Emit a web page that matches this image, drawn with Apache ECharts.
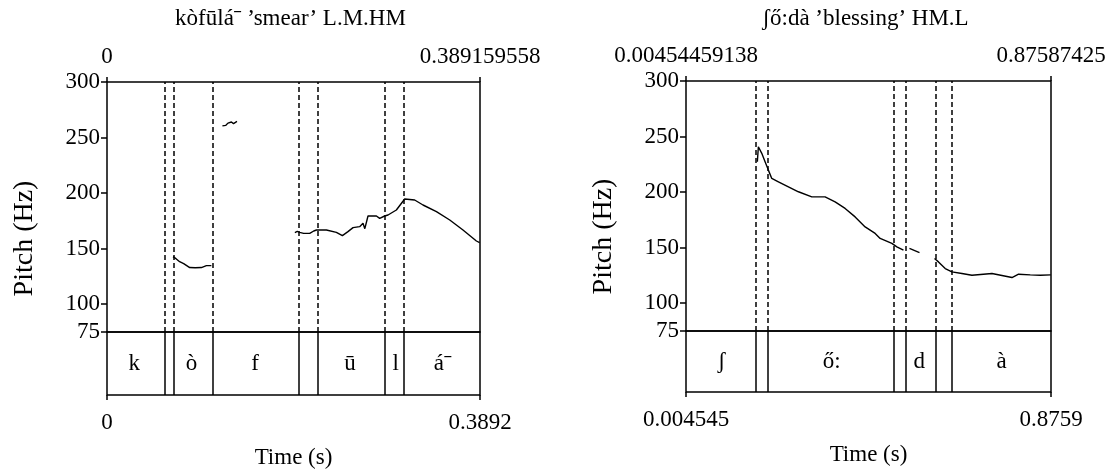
<!DOCTYPE html>
<html>
<head>
<meta charset="utf-8">
<script src="https://cdn.jsdelivr.net/npm/echarts@6/dist/echarts.min.js"></script>
<style>
  html, body { margin: 0; padding: 0; background: #fff; }
  #chart { width: 1113px; height: 473px; }
</style>
</head>
<body>
<div id="chart"></div>
<script>
// ---- kòfūláˉ 'smear' (L.M.HM) ----
const kofulaTitle = 'kòfūláˉ ’smear’ L.M.HM';
const kofulaRange = [0, 0.389159558];
const kofulaTopLabels = ['0', '0.389159558'];
const kofulaBottomLabels = ['0', '0.3892'];
const kofulaBoundaries = [0.0568, 0.0678, 0.1085, 0.2007, 0.2160, 0.2911, 0.3113];
const kofulaSegments = ['k', '', 'ò', 'f', '', 'ū', 'l', 'áˉ'];
// pitch track (s, Hz), one array per voiced stretch
const kofulaPitch1 = [[0.0689,142.8],[0.0720,141.0],[0.0758,138.3],[0.0800,136.5],[0.0863,133.0],[0.0920,132.8],[0.0985,133.0],[0.1037,134.7],[0.1089,134.7]];
const kofulaPitch2 = [[0.1204,260.5],[0.1240,261.0],[0.1262,263.0],[0.1298,264.0],[0.1320,262.5],[0.1340,263.5],[0.1356,264.5]];
const kofulaPitch3 = [[0.1960,164.5],[0.1985,165.5],[0.2010,164.7],[0.2052,163.8],[0.2115,163.8],[0.2157,165.9],[0.2185,166.8],[0.2289,166.8],[0.2393,164.7],[0.2456,161.7],[0.2514,165.3],[0.2567,168.9],[0.2636,169.8],[0.2671,172.8],[0.2690,168.0],[0.2723,179.4],[0.2811,179.4],[0.2845,177.3],[0.2897,179.4],[0.2932,180.3],[0.3019,184.8],[0.3106,194.7],[0.3210,193.8],[0.3297,189.3],[0.3437,183.3],[0.3576,175.8],[0.3714,166.8],[0.3854,156.9],[0.3888,155.4]];

// ---- ʃő:dà 'blessing' (HM.L) ----
const shodaTitle = 'ʃő:dà ’blessing’ HM.L';
const shodaRange = [0.00454459138, 0.87587425];
const shodaTopLabels = ['0.00454459138', '0.87587425'];
const shodaBottomLabels = ['0.004545', '0.8759'];
const shodaBoundaries = [0.1749, 0.2004, 0.5039, 0.5254, 0.5971, 0.6401];
const shodaSegments = ['ʃ', '', 'ő:', '', 'd', '', 'à'];
const shodaPitch1 = [[0.1749,227.3],[0.1773,240.8],[0.1813,239.4],[0.1854,234.9],[0.1933,227.3],[0.2012,219.8],[0.2093,212.3],[0.2251,209.3],[0.2490,204.8],[0.2729,200.3],[0.3049,195.7],[0.3366,195.7],[0.3605,191.2],[0.3844,185.3],[0.4083,177.7],[0.4322,168.7],[0.4561,162.8],[0.4680,158.3],[0.4960,153.8],[0.5079,150.7],[0.5237,147.7]];
const shodaPitch2 = [[0.5380,149.3],[0.5619,145.6]];
const shodaPitch3 = [[0.5978,140.2],[0.6073,137.2],[0.6234,131.2],[0.6393,128.2],[0.6632,126.7],[0.6871,125.2],[0.7349,126.7],[0.7827,123.1],[0.7985,126.1],[0.8264,125.5],[0.8503,125.2],[0.8754,125.5]];

// pitch scale
const pitchRange = [75, 300];
const pitchTicks = [75, 100, 150, 200, 250, 300];

const FONT = '"Liberation Serif", "DejaVu Serif", serif';
const FS = 23;
const INK = '#000';

// panel frames (pixels)
const panels = [
  { left: 107, width: 373, top: 82, pitchH: 250, tierH: 63, title: kofulaTitle, range: kofulaRange,
    topLabels: kofulaTopLabels, bottomLabels: kofulaBottomLabels,
    bounds: kofulaBoundaries, segs: kofulaSegments, pitch: [kofulaPitch1, kofulaPitch2, kofulaPitch3] },
  { left: 686, width: 365, top: 81, pitchH: 250, tierH: 61, title: shodaTitle, range: shodaRange,
    topLabels: shodaTopLabels, bottomLabels: shodaBottomLabels,
    bounds: shodaBoundaries, segs: shodaSegments, pitch: [shodaPitch1, shodaPitch2, shodaPitch3] }
];

function endLabel(range, labels) {
  return function (v) { return Math.abs(v - range[0]) < 1e-9 ? labels[0] : labels[1]; };
}

const grids = [], xAxes = [], yAxes = [], series = [], titles = [], graphics = [];

panels.forEach(function (p, i) {
  const gPitch = i * 2, gTier = i * 2 + 1;
  grids.push({ left: p.left, top: p.top, width: p.width, height: p.pitchH, show: true,
    borderColor: INK, borderWidth: 1.5, backgroundColor: 'transparent' });
  grids.push({ left: p.left, top: p.top + p.pitchH, width: p.width, height: p.tierH, show: true,
    borderColor: INK, borderWidth: 1.5, backgroundColor: 'transparent' });

  // time axis drawn above the pitch area
  xAxes.push({ type: 'value', gridIndex: gPitch, position: 'top', min: p.range[0], max: p.range[1],
    axisLine: { show: false }, splitLine: { show: false },
    axisTick: { show: true, inside: false, length: 5, customValues: p.range, lineStyle: { color: INK, width: 1.5 } },
    axisLabel: { customValues: p.range, formatter: endLabel(p.range, p.topLabels), margin: 14,
      color: INK, fontSize: FS, fontFamily: FONT } });
  // time axis under the segment tier
  xAxes.push({ type: 'value', gridIndex: gTier, position: 'bottom', min: p.range[0], max: p.range[1],
    name: 'Time (s)', nameLocation: 'middle', nameGap: 51,
    nameTextStyle: { color: INK, fontSize: FS, fontFamily: FONT },
    axisLine: { show: false }, splitLine: { show: false },
    axisTick: { show: true, inside: false, length: 5, customValues: p.range, lineStyle: { color: INK, width: 1.5 } },
    axisLabel: { customValues: p.range, formatter: endLabel(p.range, p.bottomLabels), margin: 16,
      color: INK, fontSize: FS, fontFamily: FONT } });

  yAxes.push({ type: 'value', gridIndex: gPitch, min: pitchRange[0], max: pitchRange[1],
    axisLine: { show: false }, splitLine: { show: false },
    axisTick: { show: true, inside: false, length: 6, customValues: pitchTicks, lineStyle: { color: INK, width: 1.5 } },
    axisLabel: { customValues: pitchTicks, margin: 7, color: INK, fontSize: FS, fontFamily: FONT } });
  yAxes.push({ type: 'value', gridIndex: gTier, min: 0, max: 1, show: false });

  // pitch contour
  p.pitch.forEach(function (seg) {
    series.push({ type: 'line', xAxisIndex: gPitch, yAxisIndex: gPitch, data: seg,
      symbol: 'none', showSymbol: false, silent: true,
      lineStyle: { color: INK, width: 1.4 } });
  });

  // dashed segment boundaries in the pitch area
  series.push({ type: 'line', xAxisIndex: gPitch, yAxisIndex: gPitch, data: [], silent: true,
    markLine: { symbol: ['none', 'none'], silent: true, label: { show: false },
      lineStyle: { type: [5, 3], color: INK, width: 1.5 },
      data: p.bounds.map(function (b) { return { xAxis: b }; }) } });

  // segment tier: solid boundaries
  series.push({ type: 'line', xAxisIndex: gTier, yAxisIndex: gTier, data: [], silent: true,
    markLine: { symbol: ['none', 'none'], silent: true, label: { show: false },
      lineStyle: { type: 'solid', color: INK, width: 1.5 },
      data: p.bounds.map(function (b) { return { xAxis: b }; }) } });

  // segment tier: labels centred in their intervals
  const edges = [p.range[0]].concat(p.bounds, [p.range[1]]);
  const labelData = [];
  p.segs.forEach(function (s, k) {
    if (s) labelData.push({ name: s, value: [(edges[k] + edges[k + 1]) / 2, 0.5] });
  });
  series.push({ type: 'custom', xAxisIndex: gTier, yAxisIndex: gTier, data: labelData, silent: true,
    renderItem: function (params, api) {
      const pt = api.coord([api.value(0), api.value(1)]);
      return { type: 'text', x: pt[0], y: pt[1],
        style: { text: labelData[params.dataIndex].name, fill: INK, fontSize: FS, fontFamily: FONT,
          align: 'center', verticalAlign: 'middle' } };
    } });

  titles.push({ text: p.title, left: p.left + p.width / 2 - 3, top: 7, padding: 0, textAlign: 'center',
    textStyle: { color: INK, fontSize: FS, fontWeight: 'normal', fontFamily: FONT } });

  graphics.push({ type: 'text', x: p.left - 82, y: p.top + (p.pitchH + p.tierH) / 2, rotation: Math.PI / 2,
    style: { text: 'Pitch (Hz)', fill: INK, fontSize: 28, fontFamily: FONT, align: 'center', verticalAlign: 'middle' } });
});

const chart = echarts.init(document.getElementById('chart'), null, { renderer: 'canvas' });
chart.setOption({
  animation: false,
  backgroundColor: '#fff',
  title: titles,
  grid: grids,
  xAxis: xAxes,
  yAxis: yAxes,
  series: series,
  graphic: graphics
});
</script>
</body>
</html>
